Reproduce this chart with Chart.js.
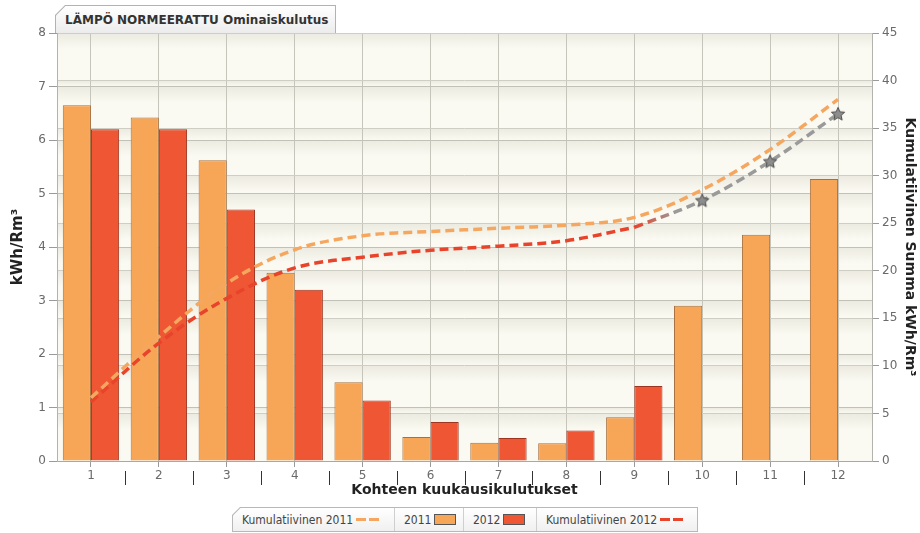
<!DOCTYPE html>
<html lang="fi">
<head>
<meta charset="utf-8">
<title>LÄMPÖ NORMEERATTU Ominaiskulutus</title>
<script src="https://cdn.jsdelivr.net/npm/chart.js@4.4.1/dist/chart.umd.min.js"></script>
<style>
  html,body{margin:0;padding:0;background:#fff;}
  #wrap{position:relative;width:920px;height:533px;font-family:"DejaVu Sans",sans-serif;}
  #wrap canvas{position:absolute;left:0;top:0;}
  /* otsikkovälilehti, vino vasen yläkulma */
  .tab{position:absolute;left:55px;top:5px;width:281px;height:28px;background:#b2b2b2;
       clip-path:polygon(10px 0,100% 0,100% 100%,0 100%,0 10px);}
  .tab div{position:absolute;left:1px;top:1px;right:1px;bottom:0;background:linear-gradient(#ffffff,#ececec);
       clip-path:polygon(9.5px 0,100% 0,100% 100%,0 100%,0 9.5px);
       font-weight:bold;font-size:12px;color:#333;line-height:28px;padding-left:9px;white-space:nowrap;}
  /* selite */
  .legend{position:absolute;left:232px;top:507px;width:466px;height:25px;background:#b8b8b8;
       clip-path:polygon(8px 0,100% 0,100% 100%,0 100%,0 8px);}
  .legend .in{position:absolute;left:1px;top:1px;right:1px;bottom:1px;background:linear-gradient(#ffffff,#f0f0f0);
       clip-path:polygon(7.5px 0,100% 0,100% 100%,0 100%,0 7.5px);display:flex;}
  .legend .it{display:flex;align-items:center;box-sizing:border-box;padding-left:9px;border-left:1px solid #cfcfcf;
       font-family:"DejaVu Sans Condensed","DejaVu Sans",sans-serif;font-size:12px;color:#444;white-space:nowrap;}
  .legend .it:first-child{border-left:none;}
  .dash{display:inline-block;width:10px;height:3px;margin-left:3px;}
  .box{display:inline-block;width:22px;height:11px;margin-left:3px;border:1px solid #555;box-sizing:border-box;}
</style>
</head>
<body>
<div id="wrap">
  <canvas id="c" width="920" height="533"></canvas>
  <div class="tab"><div>LÄMPÖ NORMEERATTU Ominaiskulutus</div></div>
  <div class="legend"><div class="in" id="legend"></div></div>
</div>
<script>
(function(){
  // kuukaudet ja kulutukset (kWh/Rm³)
  var MONTHS = ["1","2","3","4","5","6","7","8","9","10","11","12"];
  var KULUTUS_2011 = [6.65, 6.42, 5.62, 3.52, 1.47, 0.45, 0.34, 0.33, 0.82, 2.90, 4.23, 5.27];
  var KULUTUS_2012 = [6.20, 6.20, 4.70, 3.20, 1.13, 0.73, 0.43, 0.57, 1.40, null, null, null];
  // kumulatiiviset summat (oikea akseli)
  var KUM_2011 = [6.65, 13.07, 18.69, 22.21, 23.68, 24.13, 24.47, 24.80, 25.62, 28.52, 32.75, 38.02];
  var KUM_2012 = [6.20, 12.40, 17.10, 20.30, 21.43, 22.16, 22.59, 23.16, 24.56, null, null, null];
  var ENNUSTE_2012 = [null, null, null, null, null, null, null, null, 24.56, 27.40, 31.50, 36.50];
  // akselien jaot
  var Y_TICKS = [0, 1, 2, 3, 4, 5, 6, 7, 8];
  var Y2_TICKS = [0, 5, 10, 15, 20, 25, 30, 35, 40, 45];

  var ORANGE = "#f7a657", ORANGE_LINE = "#f5a760", RED = "#ef5633", RED_LINE = "#e8432b", GREY = "#9a9a9a";

  // tähti-merkki ennusteen pisteille
  function starCanvas(){
    var cv = document.createElement("canvas"); cv.width = 16; cv.height = 16;
    var c = cv.getContext("2d"), cx = 8, cy = 8.5;
    c.beginPath();
    for (var i=0;i<10;i++){
      var r = i%2 ? 3.2 : 7, a = -Math.PI/2 + i*Math.PI/5;
      c.lineTo(cx + r*Math.cos(a), cy + r*Math.sin(a));
    }
    c.closePath();
    c.fillStyle = "#8d8d8d"; c.fill();
    c.strokeStyle = "#4d4d4d"; c.lineWidth = 1; c.stroke();
    return cv;
  }
  var STAR = starCanvas();

  function setTicks(list){ return function(s){ s.ticks = list.map(function(v){ return {value:v}; }); }; }

  // kermanvärinen tausta, jokaisen ruudukkovälin yläreunassa pieni varjo
  var bands = {
    id:"bands",
    beforeDraw:function(chart){
      var a = chart.chartArea, c = chart.ctx;
      if (!a) return;
      var ys = [];
      [chart.scales.y, chart.scales.y2].forEach(function(s){
        s.ticks.forEach(function(t){ ys.push(s.getPixelForValue(t.value)); });
      });
      ys.sort(function(p,q){ return p-q; });
      c.save();
      c.fillStyle = "#fbfaf2";
      c.fillRect(a.left, a.top, a.width, a.height);
      for (var i=0;i<ys.length-1;i++){
        var top = ys[i], bot = Math.min(ys[i+1], top+16);
        if (bot - top < 1) continue;
        var g = c.createLinearGradient(0, top, 0, bot);
        g.addColorStop(0, "rgba(214,212,200,0.42)");
        g.addColorStop(1, "rgba(214,212,200,0)");
        c.fillStyle = g;
        c.fillRect(a.left, top, a.width, bot-top);
      }
      c.restore();
    }
  };

  // pystyviivat kuukausien väliin x-akselin alle
  var separators = {
    id:"separators",
    afterDraw:function(chart){
      var x = chart.scales.x, c = chart.ctx;
      c.save();
      c.strokeStyle = "#333"; c.lineWidth = 1;
      for (var i=0;i<MONTHS.length-1;i++){
        var px = Math.round((x.getPixelForValue(i) + x.getPixelForValue(i+1))/2) + 0.5;
        c.beginPath(); c.moveTo(px, 471); c.lineTo(px, 485); c.stroke();
      }
      c.restore();
    }
  };

  function forecastColor(ctx){
    var ch = ctx.chart;
    if (!ch.chartArea) return GREY;
    var x = ch.scales.x, x0 = x.getPixelForValue(8), x1 = x.getPixelForValue(9);
    var g = ch.ctx.createLinearGradient(x0, 0, x0 + (x1-x0)*0.6, 0);
    g.addColorStop(0, RED_LINE); g.addColorStop(1, GREY);
    return g;
  }

  Chart.defaults.font.family = '"DejaVu Sans", sans-serif';
  Chart.defaults.font.size = 12;
  Chart.defaults.color = "#6a6a6a";

  var lineBase = { type:"line", yAxisID:"y2", borderWidth:3.5, borderDash:[9,5], tension:0.35,
                   pointRadius:0, fill:false, order:0, spanGaps:false };

  var datasets = [
    Object.assign({}, lineBase, { label:"Kumulatiivinen 2011", data:KUM_2011, borderColor:ORANGE_LINE }),
    { type:"bar", label:"2011", data:KULUTUS_2011, backgroundColor:ORANGE, borderColor:"#a9703d", borderWidth:1,
      categoryPercentage:0.83, barPercentage:1, yAxisID:"y", order:1 },
    { type:"bar", label:"2012", data:KULUTUS_2012, backgroundColor:RED, borderColor:"#9e3520", borderWidth:1,
      categoryPercentage:0.83, barPercentage:1, yAxisID:"y", order:1 },
    Object.assign({}, lineBase, { label:"Kumulatiivinen 2012", data:KUM_2012, borderColor:RED_LINE }),
    Object.assign({}, lineBase, { label:"Ennuste 2012", data:ENNUSTE_2012, borderColor:forecastColor,
      pointStyle:STAR, pointRadius:function(c){ return c.dataIndex > 8 ? 7 : 0; } })
  ];

  new Chart(document.getElementById("c"), {
    data:{ labels:MONTHS, datasets:datasets },
    plugins:[bands, separators],
    options:{
      responsive:false, animation:false,
      layout:{ padding:{ top:33, bottom:33, left:0, right:0 } },
      plugins:{ legend:{ display:false }, tooltip:{ enabled:false } },
      scales:{
        x:{
          grid:{ offset:false, color:"#c6c5bc", tickLength:6, tickColor:"#9a9a9a" },
          border:{ color:"#a8a8a4" },
          ticks:{ padding:2, color:"#6a6a6a", font:{size:12} },
          title:{ display:true, text:"Kohteen kuukausikulutukset", color:"#222",
                  font:{ size:14, weight:"bold" }, padding:{ top:0, bottom:1 } },
          afterFit:function(s){ s.height = 39; }
        },
        y:{
          position:"left", min:0, max:8,
          afterBuildTicks:setTicks(Y_TICKS),
          grid:{ color:"#c2c1b8", tickLength:8, tickColor:"#9a9a9a" },
          border:{ color:"#b3b3ae" },
          ticks:{ padding:3, color:"#6a6a6a" },
          title:{ display:true, text:"kWh/Rm³", color:"#222", font:{ size:15, weight:"bold" }, padding:{ top:9, bottom:0 } },
          afterFit:function(s){ s.width = 57; }
        },
        y2:{
          position:"right", min:0, max:45,
          afterBuildTicks:setTicks(Y2_TICKS),
          grid:{ color:"#cfcec5", tickLength:7, tickColor:"#9a9a9a" },
          border:{ color:"#b3b3ae" },
          ticks:{ padding:3, color:"#6a6a6a" },
          title:{ display:true, text:"Kumulatiivinen Summa kWh/Rm³", color:"#222", font:{ size:14, weight:"bold" }, padding:{ top:2, bottom:0 } },
          afterFit:function(s){ s.width = 48; }
        }
      }
    }
  });

  // selite: teksti ensin, merkki perään
  var LEGEND = [
    { text:"Kumulatiivinen 2011", kind:"dash", color:ORANGE_LINE, w:161 },
    { text:"2011", kind:"box", color:ORANGE, w:69 },
    { text:"2012", kind:"box", color:RED, w:73 },
    { text:"Kumulatiivinen 2012", kind:"dash", color:RED_LINE, w:161 }
  ];
  var lg = document.getElementById("legend");
  LEGEND.forEach(function(it){
    var d = document.createElement("div");
    d.className = "it"; d.style.width = it.w + "px";
    d.appendChild(document.createTextNode(it.text));
    if (it.kind === "dash"){
      for (var k=0;k<2;k++){ var s = document.createElement("span"); s.className = "dash"; s.style.background = it.color; d.appendChild(s); }
    } else {
      var b = document.createElement("span"); b.className = "box"; b.style.background = it.color; d.appendChild(b);
    }
    lg.appendChild(d);
  });
})();
</script>
</body>
</html>
